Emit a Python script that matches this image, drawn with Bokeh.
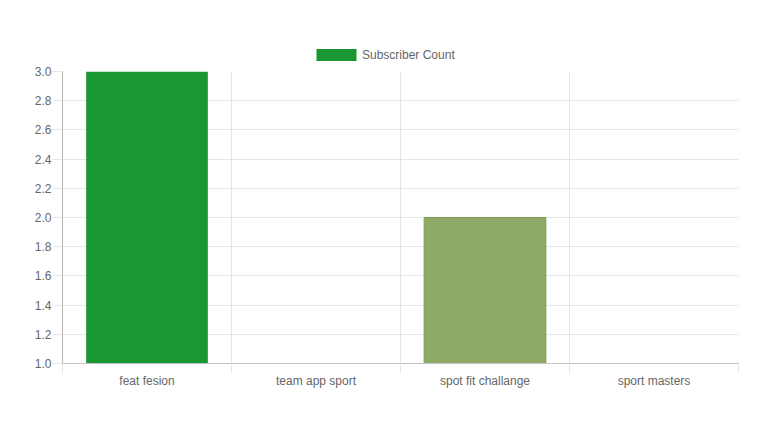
from bokeh.plotting import figure
from bokeh.layouts import column
from bokeh.models import (ColumnDataSource, Range1d, FixedTicker, SingleIntervalTicker,
                          PrintfTickFormatter, Legend, LegendItem)
from bokeh.embed import file_html
from bokeh.resources import INLINE

# ---- data ----
categories = ["feat fesion", "team app sport", "spot fit challange", "sport masters"]
subscriber_count = [3, 1, 2, 1]
series_name = "Subscriber Count"
y_min, y_max, y_step = 1.0, 3.0, 0.2

# ---- styles ----
bar_colors = ["#1a9632", "#5b7fb8", "#8faa66", "#c0504d"]
bar_line_colors = ["#1a9632", "#5b7fb8", "#7e9a52", "#c0504d"]
bar_line_alpha = [0, 0, 1, 0]
FONT = "Liberation Sans"
TXT = "#666666"
GRID = "#e6e6e6"
W = 755
TOP_H = 63

xs = [i + 0.5 for i in range(len(categories))]
src = ColumnDataSource(dict(x=xs, top=subscriber_count, bottom=[y_min] * len(categories),
                            color=bar_colors, lc=bar_line_colors, la=bar_line_alpha))

# ---- legend strip ----
lg = figure(width=W, height=TOP_H, output_backend="svg", toolbar_location=None,
            x_range=Range1d(0, 1), y_range=Range1d(0, 1),
            min_border=0, x_axis_type=None, y_axis_type=None)
lg.outline_line_color = None
lg.xgrid.visible = False
lg.ygrid.visible = False
# proxy renderer for the legend swatch (its single bar lies outside the visible range)
dummy = lg.vbar(x=[-5], top=[-5], bottom=[-6], width=1, fill_color=bar_colors[0], line_alpha=0)
legend = Legend(items=[LegendItem(label=series_name, renderers=[dummy], index=0)],
                location=(249, 1), orientation="horizontal",
                glyph_width=50, glyph_height=15, label_standoff=1, padding=0, margin=0,
                spacing=0, label_text_font=FONT, label_text_font_size="12px",
                label_text_color=TXT, label_height=12,
                border_line_color=None, background_fill_alpha=0)
lg.add_layout(legend, "center")

# ---- main chart ----
p = figure(width=W, height=438 - TOP_H, output_backend="svg", toolbar_location=None,
           x_range=Range1d(0, len(categories)), y_range=Range1d(y_min, y_max),
           min_border_left=62, min_border_right=W - 738, min_border_top=71 - TOP_H,
           min_border_bottom=438 - TOP_H - 8 - 292)
p.outline_line_color = None

r = p.vbar(x="x", top="top", bottom="bottom", width=0.72, source=src,
           fill_color="color", line_color="lc", line_alpha="la", line_width=1)

p.xaxis.ticker = FixedTicker(ticks=xs, minor_ticks=list(range(len(categories) + 1)))
p.xaxis.major_label_overrides = {x: c for x, c in zip(xs, categories)}
p.xaxis.major_tick_line_color = None
p.xaxis.major_tick_out = 0
p.xaxis.major_tick_in = 0
p.xaxis.minor_tick_out = 10
p.xaxis.minor_tick_in = 0
p.xaxis.minor_tick_line_color = GRID
p.xaxis.axis_line_color = "#c4c4c4"
p.xaxis.major_label_standoff = 0
p.xaxis.major_label_text_font = FONT
p.xaxis.major_label_text_font_size = "12px"
p.xaxis.major_label_text_color = TXT

p.xgrid.ticker = FixedTicker(ticks=list(range(len(categories) + 1)))
p.xgrid.grid_line_color = GRID

p.yaxis.ticker = SingleIntervalTicker(interval=y_step)
p.yaxis.formatter = PrintfTickFormatter(format="%.1f")
p.yaxis.major_tick_out = 10
p.yaxis.major_tick_in = 0
p.yaxis.major_tick_line_color = GRID
p.yaxis.minor_tick_line_color = None
p.yaxis.axis_line_color = "#b4b4b4"
p.yaxis.major_label_standoff = 1
p.yaxis.major_label_text_font = FONT
p.yaxis.major_label_text_font_size = "12px"
p.yaxis.major_label_text_color = TXT
p.ygrid.grid_line_color = GRID

layout = column(lg, p, spacing=0)
open("out.html", "w").write(file_html(layout, INLINE))
